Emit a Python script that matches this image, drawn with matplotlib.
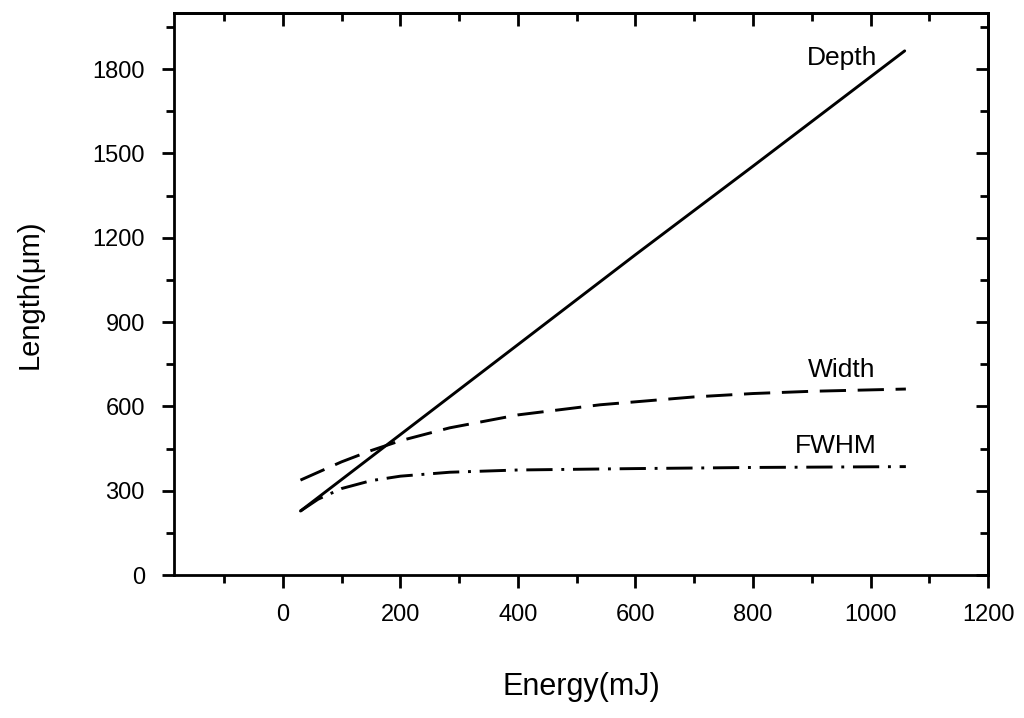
import matplotlib.pyplot as plt
from matplotlib.ticker import MultipleLocator

plt.rcParams['font.family'] = ['Liberation Sans', 'DejaVu Sans']

# values
depth_e = [30, 200, 400, 600, 800, 1058]
depth_len = [228, 500, 820, 1140, 1455, 1865]

width_e = [30, 100, 150, 200, 284, 400, 540, 700, 800, 900, 1060]
width_len = [338, 403, 443, 478, 524, 570, 606, 634, 646, 654, 662]

fwhm_e = [30, 60, 100, 150, 200, 284, 400, 600, 800, 1060]
fwhm_len = [228, 270, 308, 336, 352, 366, 374, 379, 383, 386]

xmajor = [0, 200, 400, 600, 800, 1000, 1200]
ymajor = [0, 300, 600, 900, 1200, 1500, 1800]

fig = plt.figure(figsize=(10.24, 7.18), dpi=100)
ax = fig.add_axes([0.170, 0.199, 0.795, 0.783])

ax.plot(depth_e, depth_len, color='black', lw=2.1, solid_capstyle='round')
ax.plot(width_e, width_len, color='black', lw=2.1, dashes=(9, 4))
ax.plot(fwhm_e, fwhm_len, color='black', lw=2.1, dashes=(9, 3, 1, 3))

ax.text(951, 1839, 'Depth', fontsize=19, ha='center', va='center')
ax.text(950, 729, 'Width', fontsize=19, ha='center', va='center')
ax.text(940, 459, 'FWHM', fontsize=19, ha='center', va='center')

ax.set_xlim(-185, 1200)
ax.set_ylim(0, 2000)
ax.set_xticks(xmajor)
ax.set_yticks(ymajor)
ax.xaxis.set_minor_locator(MultipleLocator(100))
ax.yaxis.set_minor_locator(MultipleLocator(150))

for s in ax.spines.values():
    s.set_linewidth(2.0)

# bottom and left: outward ticks with labels
ax.tick_params(which='both', direction='out', width=2, labelsize=17,
               top=False, right=False)
ax.tick_params(which='major', length=9, pad=12)
ax.tick_params(which='minor', length=6)

# top and right: inward ticks, no labels
top = ax.secondary_xaxis('top')
top.set_xticks(xmajor)
top.xaxis.set_minor_locator(MultipleLocator(100))
top.tick_params(which='both', direction='in', width=2, labeltop=False)
top.tick_params(which='major', length=9)
top.tick_params(which='minor', length=6)
top.spines['top'].set_linewidth(2.0)

right = ax.secondary_yaxis('right')
right.set_yticks(ymajor)
right.yaxis.set_minor_locator(MultipleLocator(150))
right.tick_params(which='both', direction='in', width=2, labelright=False)
right.tick_params(which='major', length=9)
right.tick_params(which='minor', length=6)
right.spines['right'].set_linewidth(2.0)

ax.set_xlabel('Energy(mJ)', fontsize=22, labelpad=33)
ax.set_ylabel('Length(\u03bcm)', fontsize=21, labelpad=35)

fig.savefig('out.png', dpi=100)
